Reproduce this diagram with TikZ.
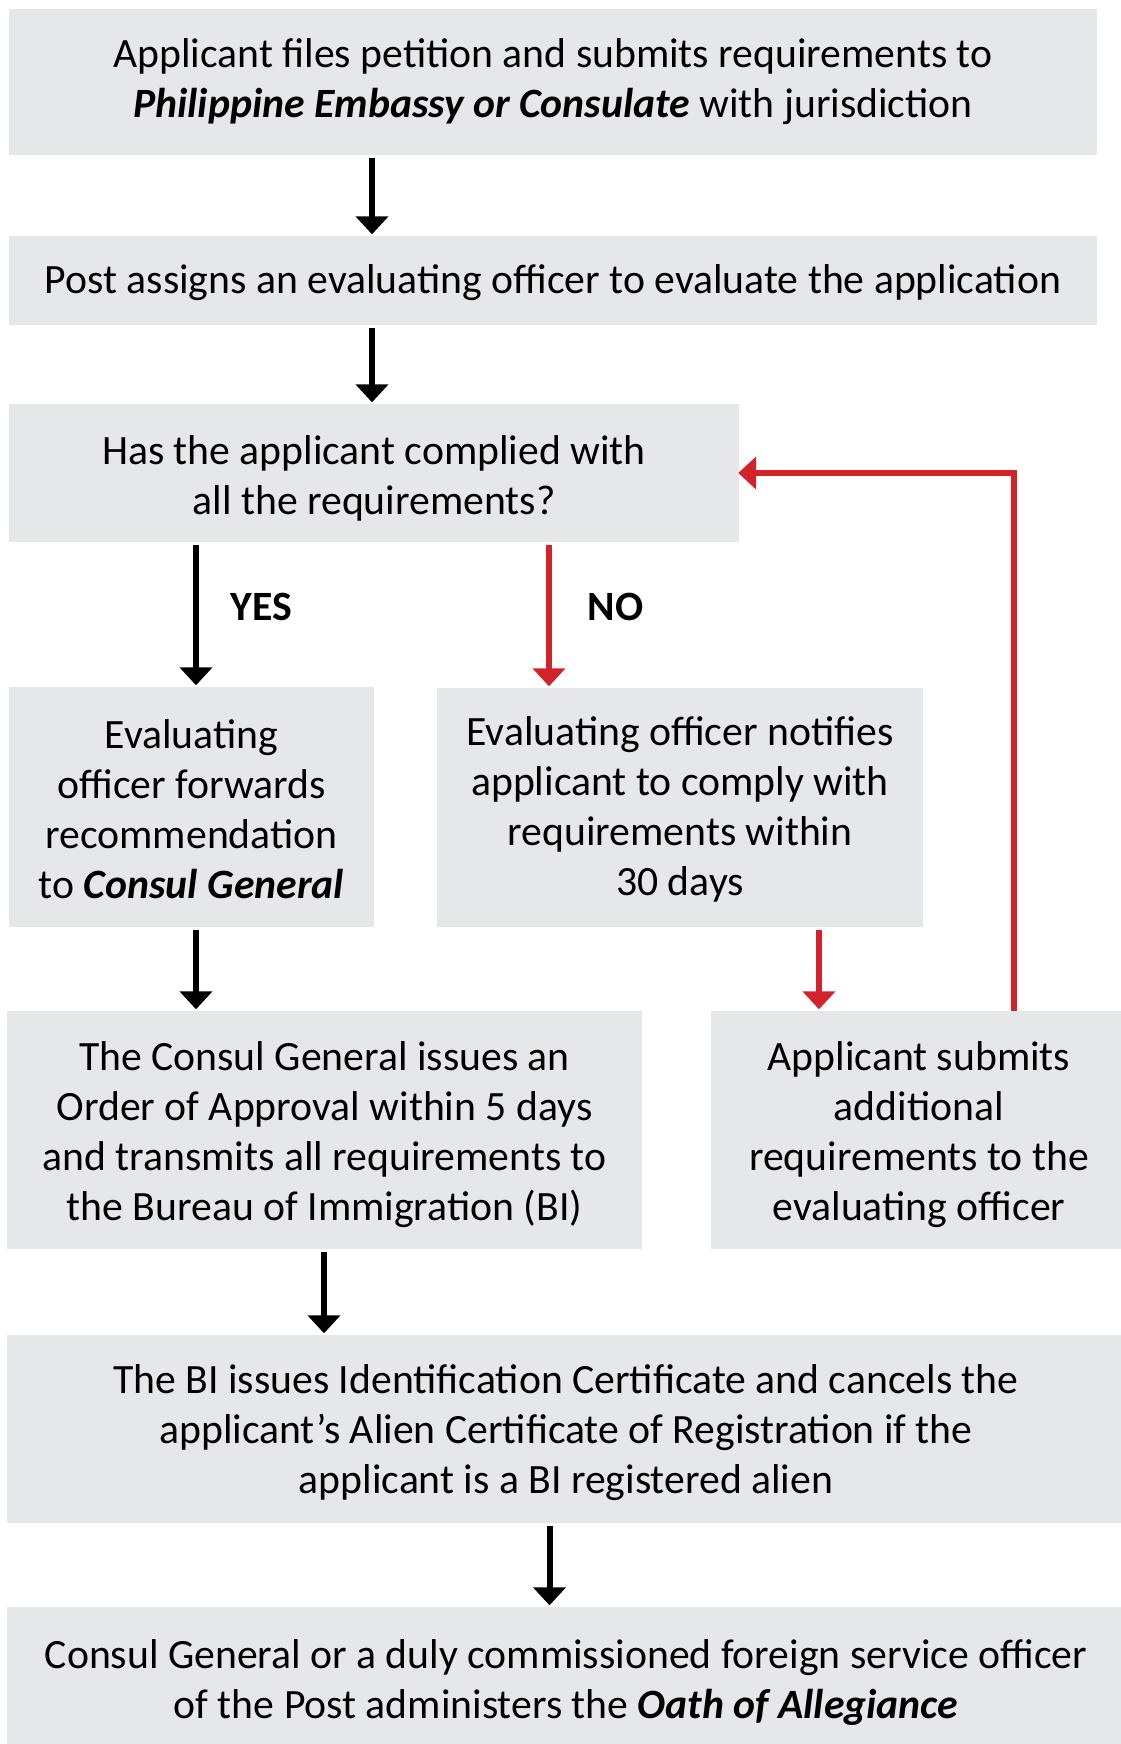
\documentclass[tikz,border=0pt]{standalone}
\usepackage{fontspec}
\setmainfont{Carlito}
\usetikzlibrary{arrows.meta}
\definecolor{boxgray}{HTML}{E6E7E8}
\definecolor{flowred}{HTML}{D2232A}
\tikzset{
  stepbox/.style={rectangle, fill=boxgray, draw=none, inner sep=0pt},
  boxtext/.style={inner sep=0pt, align=center, font={\fontsize{41.7}{50}\selectfont}},
  flowarrow/.style={line width=6pt, -{Triangle[width=32pt,length=18pt]}, shorten <=2.5pt, shorten >=1.5pt},
  blackarrow/.style={flowarrow, draw=black},
  redarrow/.style={flowarrow, draw=flowred},
  answer/.style={font={\fontsize{41.7}{50}\selectfont\bfseries}, inner sep=0pt}
}
\newcommand\mkflowbox[6]{%
  \node[stepbox, minimum width=#3, minimum height=#4] (#1) at (#2) {};
  \node[boxtext] (#1t) at ([yshift=-#5]#1.center) {#6};}
\begin{document}
\begin{tikzpicture}[x=1pt,y=-1pt]
\useasboundingbox (0,0) rectangle (1120,1744);
\mkflowbox{b1}{553,82}{1088pt}{146pt}{0pt}
  {Applicant files petition and submits requirements to\\\textbf{\textit{Philippine Embassy or Consulate}} with jurisdiction}
\mkflowbox{b2}{553,280.5}{1088pt}{89pt}{2.2pt}
  {Post assigns an evaluating officer to evaluate the application}
\mkflowbox{b3}{374,473}{730pt}{138pt}{5.5pt}
  {Has the applicant complied with\\all the requirements?}
\mkflowbox{b4}{191.5,807}{365pt}{240pt}{2.2pt}
  {Evaluating\\officer forwards\\recommendation\\to \textbf{\textit{Consul General}}}
\mkflowbox{b5}{680,807.5}{486pt}{239pt}{2.2pt}
  {Evaluating officer notifies\\applicant to comply with\\requirements within\\30 days}
\mkflowbox{b6}{324.5,1130}{635pt}{238pt}{4.5pt}
  {The Consul General issues an\\Order of Approval within 5 days\\and transmits all requirements to\\the Bureau of Immigration (BI)}
\mkflowbox{b7}{919,1130}{416pt}{238pt}{4.5pt}
  {Applicant submits\\additional\\requirements to the\\evaluating officer}
\mkflowbox{b8}{566,1429}{1118pt}{188pt}{3.3pt}
  {The BI issues Identification Certificate and cancels the\\applicant’s Alien Certificate of Registration if the\\applicant is a BI registered alien}
\mkflowbox{b9}{566,1679}{1118pt}{144pt}{3.3pt}
  {Consul General or a duly commissioned foreign service officer\\of the Post administers the \textbf{\textit{Oath of Allegiance}}}

\node[answer] (yes) at (261,607) {YES};
\node[answer] (no) at (615.5,607) {NO};

\coordinate (xmain) at (372,0);
\coordinate (xyes) at (196,0);
\coordinate (xno) at (549,0);
\coordinate (xadd) at (819,0);
\coordinate (xbi) at (324,0);
\coordinate (xoath) at (549.5,0);
\coordinate (xback) at (1014,0);

\draw[blackarrow] (b1.south -| xmain) -- (b2.north -| xmain);
\draw[blackarrow] (b2.south -| xmain) -- (b3.north -| xmain);
\draw[blackarrow] (b3.south -| xyes) -- (b4.north -| xyes);
\draw[redarrow] (b3.south -| xno) -- (b5.north -| xno);
\draw[blackarrow] (b4.south -| xyes) -- (b6.north -| xyes);
\draw[redarrow] (b5.south -| xadd) -- (b7.north -| xadd);
\draw[blackarrow] (b6.south -| xbi) -- (b8.north -| xbi);
\draw[blackarrow] (b8.south -| xoath) -- (b9.north -| xoath);
\draw[redarrow, shorten <=0pt, shorten >=-1pt] (b7.north -| xback) |- (b3.east);
\end{tikzpicture}
\end{document}
